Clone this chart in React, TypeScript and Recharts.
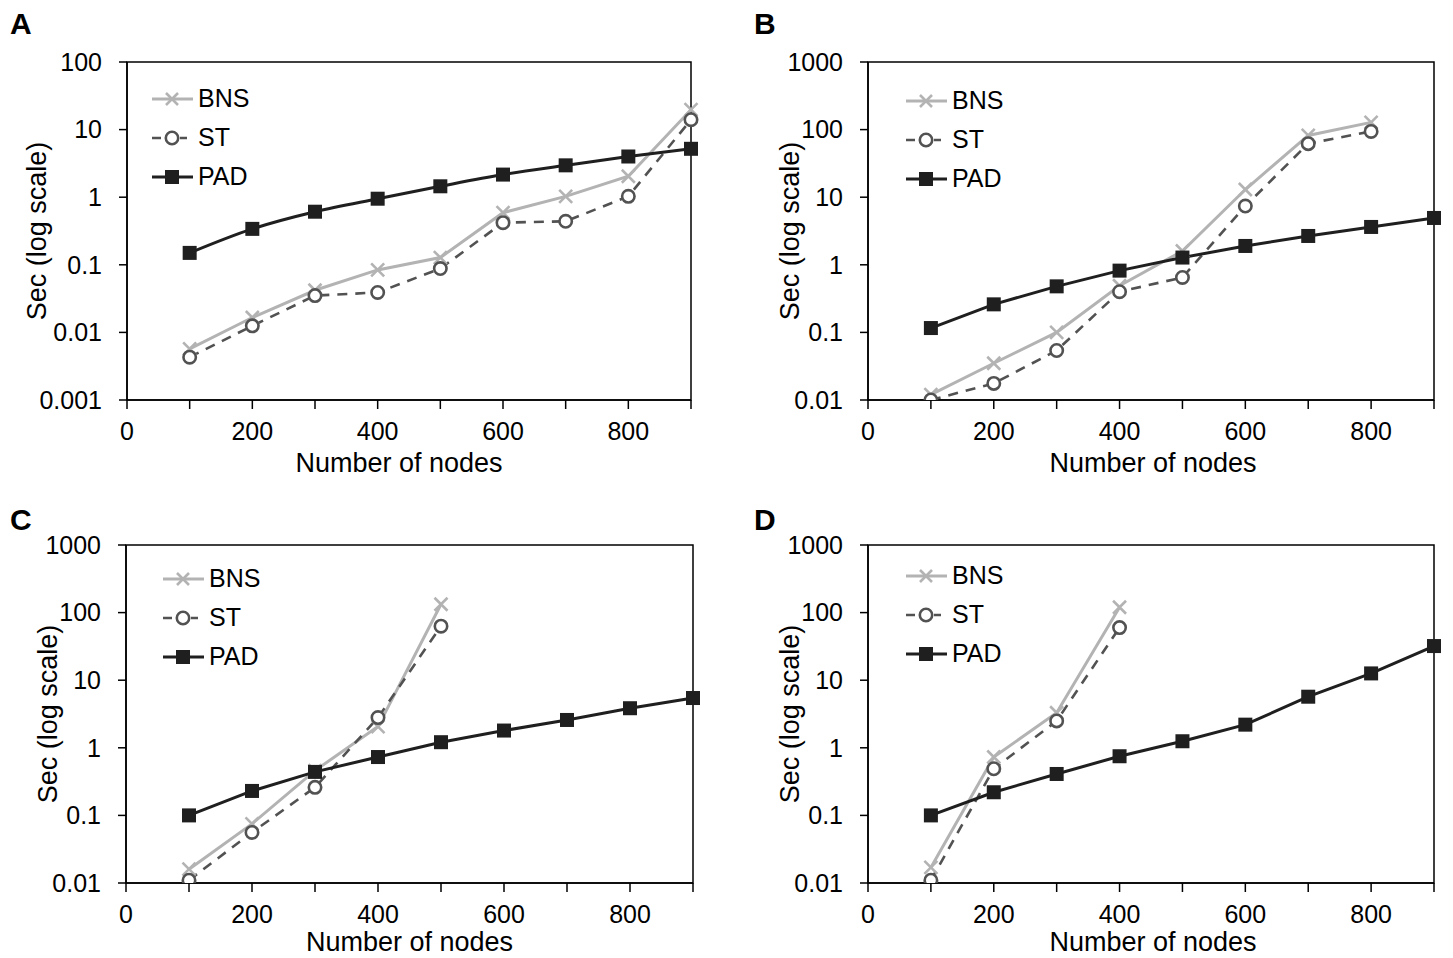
import React from 'react';
import { LineChart, Line, XAxis, YAxis, ReferenceArea, Legend, Label } from 'recharts';

const NODES = [100, 200, 300, 400, 500, 600, 700, 800, 900];
const X_TICKS = [0, 100, 200, 300, 400, 500, 600, 700, 800, 900];
const Y_TICKS_A = [0.001, 0.01, 0.1, 1, 10, 100];
const Y_TICKS_BCD = [0.01, 0.1, 1, 10, 100, 1000];

const A_BNS = [0.0057, 0.0166, 0.042, 0.084, 0.128, 0.59, 1.03, 2.04, 19.7];
const A_ST = [0.0043, 0.0125, 0.035, 0.039, 0.088, 0.42, 0.44, 1.03, 14];
const A_PAD = [0.15, 0.34, 0.61, 0.95, 1.45, 2.16, 2.96, 4.0, 5.2];

const B_BNS = [0.012, 0.035, 0.1, 0.49, 1.6, 13, 82, 128, null];
const B_ST = [0.01, 0.0176, 0.054, 0.4, 0.65, 7.4, 62, 94, null];
const B_PAD = [0.116, 0.26, 0.48, 0.82, 1.28, 1.9, 2.67, 3.63, 4.93];

const C_BNS = [0.016, 0.075, 0.46, 2.06, 133, null, null, null, null];
const C_ST = [0.011, 0.056, 0.26, 2.8, 63, null, null, null, null];
const C_PAD = [0.1, 0.23, 0.44, 0.73, 1.21, 1.8, 2.58, 3.85, 5.45];

const D_BNS = [0.017, 0.73, 3.3, 120, null, null, null, null, null];
const D_ST = [0.011, 0.49, 2.5, 60, null, null, null, null, null];
const D_PAD = [0.1, 0.22, 0.41, 0.75, 1.25, 2.2, 5.7, 12.6, 32];

const SERIES_NAMES = ['BNS', 'ST', 'PAD'];

const FONT = '"Liberation Sans", Arial, Helvetica, sans-serif';
const C_BNS_COL = '#b3b3b3';
const C_ST_COL = '#525252';
const C_PAD_COL = '#1f1f1f';

type Row = { x: number; BNS: number | null; ST: number | null; PAD: number | null };

function buildRows(bns: (number | null)[], st: (number | null)[], pad: (number | null)[]): Row[] {
  return NODES.map((x, i) => ({ x, BNS: bns[i], ST: st[i], PAD: pad[i] }));
}

function crossShape(cx: number, cy: number, key: string, s = 6.5) {
  return (
    <path
      key={key}
      d={`M${cx - s},${cy - s}L${cx + s},${cy + s}M${cx - s},${cy + s}L${cx + s},${cy - s}`}
      stroke={C_BNS_COL}
      strokeWidth={2.6}
      fill="none"
    />
  );
}
function circleShape(cx: number, cy: number, key: string) {
  return <circle key={key} cx={cx} cy={cy} r={6.2} stroke={C_ST_COL} strokeWidth={2.6} fill="#fff" />;
}
function squareShape(cx: number, cy: number, key: string) {
  return <rect key={key} x={cx - 7} y={cy - 7} width={14} height={14} fill={C_PAD_COL} />;
}

const makeDot = (kind: string) => (props: any) => {
  const { cx, cy, index } = props;
  const key = `${kind}-${index}`;
  if (cx == null || cy == null || Number.isNaN(cx) || Number.isNaN(cy)) return <g key={key} />;
  if (kind === 'BNS') return crossShape(cx, cy, key);
  if (kind === 'ST') return circleShape(cx, cy, key);
  return squareShape(cx, cy, key);
};

function LegendContent() {
  return (
    <div style={{ fontFamily: FONT, fontSize: 25, color: '#000' }}>
      {SERIES_NAMES.map((name) => (
        <div key={name} style={{ display: 'flex', alignItems: 'center', height: 39 }}>
          <svg width={44} height={20} style={{ display: 'block' }}>
            {name === 'BNS' && (
              <>
                <line x1={0} y1={10} x2={41} y2={10} stroke={C_BNS_COL} strokeWidth={3} />
                {crossShape(20, 10, 'l', 6)}
              </>
            )}
            {name === 'ST' && (
              <>
                <line x1={0} y1={10} x2={35} y2={10} stroke={C_ST_COL} strokeWidth={2.6} strokeDasharray="9 5" />
                {circleShape(20, 10, 'l')}
              </>
            )}
            {name === 'PAD' && (
              <>
                <line x1={0} y1={10} x2={41} y2={10} stroke={C_PAD_COL} strokeWidth={3} />
                {squareShape(20, 10, 'l')}
              </>
            )}
          </svg>
          <span style={{ marginLeft: 2, lineHeight: '25px' }}>{name}</span>
        </div>
      ))}
    </div>
  );
}

const fmtX = (v: number) => (v % 200 === 0 && v < 900 ? String(v) : '');
const fmtY = (v: number) => String(v);

type PanelProps = {
  letter: string;
  letterTop: number;
  left: number;
  top: number;
  width: number;
  height: number;
  margin: { top: number; right: number; bottom: number; left: number };
  rows: Row[];
  yTicks: number[];
  yTitleDx: number;
  xTitleDx: number;
  xTitleDy: number;
  legendPos: { left: number; top: number };
  padCurve: 'monotone' | 'linear';
};

function Panel(p: PanelProps) {
  const yMin = p.yTicks[0];
  const yMax = p.yTicks[p.yTicks.length - 1];
  const tickStyle = { fontFamily: FONT, fontSize: 25, fill: '#000' };
  return (
    <div style={{ position: 'absolute', left: p.left, top: p.top, width: p.width, height: p.height }}>
      <div
        style={{
          position: 'absolute',
          left: p.letter === 'A' || p.letter === 'C' ? 10 : 27,
          top: p.letterTop,
          fontFamily: FONT,
          fontSize: 30,
          fontWeight: 'bold',
          lineHeight: '30px',
          color: '#000',
          zIndex: 2,
        }}
      >
        {p.letter}
      </div>
      <LineChart width={p.width} height={p.height} data={p.rows} margin={p.margin}>
        <XAxis
          dataKey="x"
          type="number"
          domain={[0, 900]}
          ticks={X_TICKS}
          tickFormatter={fmtX}
          interval={0}
          tick={tickStyle}
          tickSize={9}
          tickMargin={13}
          height={30}
          stroke="#000"
          axisLine={{ stroke: '#000', strokeWidth: 1.5 }}
          tickLine={{ stroke: '#000', strokeWidth: 1.5 }}
        >
          <Label
            content={(lp: any) => {
              const vb = lp.viewBox || {};
              const cx = vb.x + vb.width / 2 + p.xTitleDx;
              const cy = vb.y + vb.height + p.xTitleDy;
              return (
                <text
                  x={cx}
                  y={cy}
                  textAnchor="middle"
                  dominantBaseline="central"
                  style={{ fontFamily: FONT, fontSize: 27, fill: '#000' }}
                >
                  Number of nodes
                </text>
              );
            }}
          />
        </XAxis>
        <YAxis
          scale="log"
          domain={[yMin, yMax]}
          ticks={p.yTicks}
          tickFormatter={fmtY}
          interval={0}
          allowDataOverflow
          tick={tickStyle}
          tickSize={8}
          tickMargin={17}
          width={60}
          stroke="#000"
          axisLine={{ stroke: '#000', strokeWidth: 1.5 }}
          tickLine={{ stroke: '#000', strokeWidth: 1.5 }}
        >
          <Label
            content={(lp: any) => {
              const vb = lp.viewBox || {};
              const cx = vb.x + vb.width - p.yTitleDx;
              const cy = vb.y + vb.height / 2;
              return (
                <text
                  x={cx}
                  y={cy}
                  transform={`rotate(-90 ${cx} ${cy})`}
                  textAnchor="middle"
                  dominantBaseline="central"
                  style={{ fontFamily: FONT, fontSize: 27, fill: '#000' }}
                >
                  Sec (log scale)
                </text>
              );
            }}
          />
        </YAxis>
        <ReferenceArea x1={0} x2={900} y1={yMin} y2={yMax} fill="none" stroke="#000" strokeWidth={1.5} />
        <Legend
          layout="vertical"
          align="center"
          verticalAlign="middle"
          content={<LegendContent />}
          wrapperStyle={{ left: p.legendPos.left, top: p.legendPos.top, width: 'auto', height: 'auto' }}
        />
        <Line
          dataKey="BNS"
          name="BNS"
          type="linear"
          stroke={C_BNS_COL}
          strokeWidth={3}
          dot={makeDot('BNS')}
          activeDot={false}
          isAnimationActive={false}
        />
        <Line
          dataKey="ST"
          name="ST"
          type="linear"
          stroke={C_ST_COL}
          strokeWidth={2.6}
          strokeDasharray="10 8"
          dot={makeDot('ST')}
          activeDot={false}
          isAnimationActive={false}
        />
        <Line
          dataKey="PAD"
          name="PAD"
          type={p.padCurve}
          stroke={C_PAD_COL}
          strokeWidth={3}
          dot={makeDot('PAD')}
          activeDot={false}
          isAnimationActive={false}
        />
      </LineChart>
    </div>
  );
}

const ROWS_A = buildRows(A_BNS, A_ST, A_PAD);
const ROWS_B = buildRows(B_BNS, B_ST, B_PAD);
const ROWS_C = buildRows(C_BNS, C_ST, C_PAD);
const ROWS_D = buildRows(D_BNS, D_ST, D_PAD);

export default function App() {
  return (
    <div style={{ position: 'absolute', left: 0, top: 0, width: 1453, height: 958, background: '#fff', overflow: 'hidden' }}>
      <Panel
        letter="A"
        letterTop={9}
        left={0}
        top={0}
        width={727}
        height={479}
        margin={{ top: 62, right: 36, bottom: 49, left: 67 }}
        rows={ROWS_A}
        yTicks={Y_TICKS_A}
        yTitleDx={90}
        xTitleDx={-10}
        xTitleDy={33}
        legendPos={{ left: 152, top: 79 }}
        padCurve="monotone"
      />
      <Panel
        letter="B"
        letterTop={9}
        left={727}
        top={0}
        width={726}
        height={479}
        margin={{ top: 62, right: 19, bottom: 49, left: 81 }}
        rows={ROWS_B}
        yTicks={Y_TICKS_BCD}
        yTitleDx={78}
        xTitleDx={2}
        xTitleDy={33}
        legendPos={{ left: 179, top: 81 }}
        padCurve="linear"
      />
      <Panel
        letter="C"
        letterTop={25}
        left={0}
        top={480}
        width={727}
        height={478}
        margin={{ top: 65, right: 34, bottom: 45, left: 66 }}
        rows={ROWS_C}
        yTicks={Y_TICKS_BCD}
        yTitleDx={78}
        xTitleDx={0}
        xTitleDy={29}
        legendPos={{ left: 163, top: 79 }}
        padCurve="linear"
      />
      <Panel
        letter="D"
        letterTop={25}
        left={727}
        top={480}
        width={726}
        height={478}
        margin={{ top: 65, right: 19, bottom: 45, left: 81 }}
        rows={ROWS_D}
        yTicks={Y_TICKS_BCD}
        yTitleDx={78}
        xTitleDx={2}
        xTitleDy={29}
        legendPos={{ left: 179, top: 76 }}
        padCurve="linear"
      />
    </div>
  );
}
